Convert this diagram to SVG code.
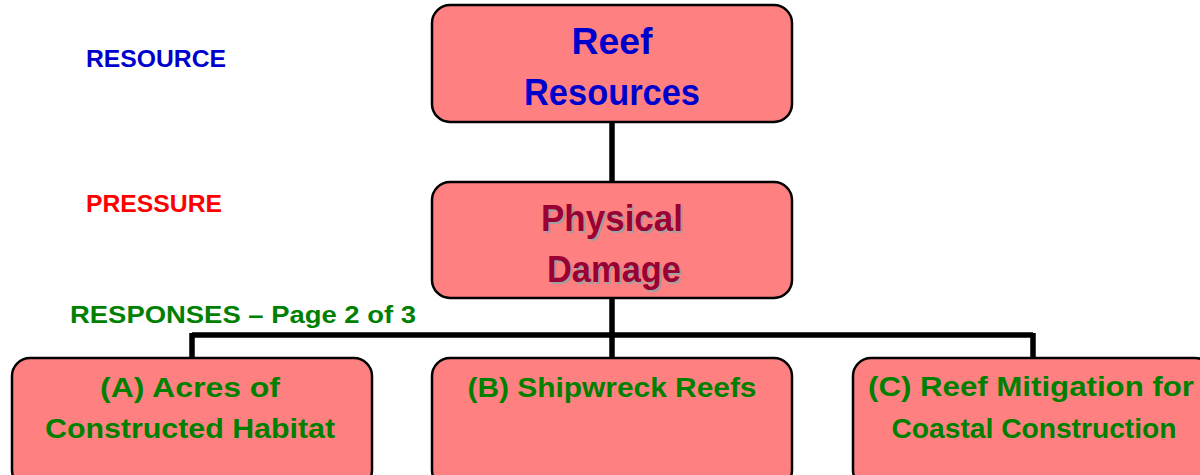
<svg xmlns="http://www.w3.org/2000/svg" width="1200" height="475" viewBox="0 0 1200 475">
<style>
.box{fill:#FF8080;stroke:#000;stroke-width:2.5}
.conn{stroke:#000;stroke-width:5.5;fill:none}
text{font-family:"Liberation Sans",Arial,sans-serif;font-weight:bold;text-anchor:middle}
.big{font-size:37px}
.mid{font-size:27px;fill:#008000}
.lbl{font-size:24px;text-anchor:start}
</style>
<rect width="1200" height="475" fill="#fff"/>
<g id="connectors">
<path class="conn" d="M612 122V183"/>
<path class="conn" d="M612 298V335M192 335H1033M192 333V359M612 333V359M1033 333V359"/>
</g>
<g id="labels">
<text class="lbl" x="86" y="67" fill="#0000CC" textLength="140" lengthAdjust="spacingAndGlyphs">RESOURCE</text>
<text class="lbl" x="86" y="212" fill="#FF0000" textLength="136" lengthAdjust="spacingAndGlyphs">PRESSURE</text>
<text class="lbl" x="70" y="323" fill="#008000" textLength="346" lengthAdjust="spacingAndGlyphs">RESPONSES – Page 2 of 3</text>
</g>
<g id="reef-resources">
<rect class="box" x="432" y="5" width="360" height="117" rx="18"/>
<text class="big" x="612" y="54" fill="#0000CC" textLength="81" lengthAdjust="spacingAndGlyphs">Reef</text>
<text class="big" x="612" y="105" fill="#0000CC" textLength="176" lengthAdjust="spacingAndGlyphs">Resources</text>
</g>
<g id="physical-damage">
<rect class="box" x="432" y="182" width="360" height="116" rx="18"/>
<text class="big" x="613.5" y="232.5" fill="#A0A0A0" textLength="142" lengthAdjust="spacingAndGlyphs">Physical</text>
<text class="big" x="615.5" y="283.5" fill="#A0A0A0" textLength="134" lengthAdjust="spacingAndGlyphs">Damage</text>
<text class="big" x="612" y="231" fill="#990033" textLength="142" lengthAdjust="spacingAndGlyphs">Physical</text>
<text class="big" x="614" y="282" fill="#990033" textLength="134" lengthAdjust="spacingAndGlyphs">Damage</text>
</g>
<g id="response-a">
<rect class="box" x="12" y="358" width="360" height="130" rx="18"/>
<text class="mid" x="190" y="397" textLength="180" lengthAdjust="spacingAndGlyphs">(A) Acres of</text>
<text class="mid" x="190" y="438" textLength="290" lengthAdjust="spacingAndGlyphs">Constructed Habitat</text>
</g>
<g id="response-b">
<rect class="box" x="432" y="358" width="360" height="130" rx="18"/>
<text class="mid" x="612" y="397" textLength="289" lengthAdjust="spacingAndGlyphs">(B) Shipwreck Reefs</text>
</g>
<g id="response-c">
<rect class="box" x="853" y="358" width="360" height="130" rx="18"/>
<text class="mid" x="1031" y="396" textLength="326" lengthAdjust="spacingAndGlyphs">(C) Reef Mitigation for</text>
<text class="mid" x="1034" y="438" textLength="285" lengthAdjust="spacingAndGlyphs">Coastal Construction</text>
</g>
</svg>
